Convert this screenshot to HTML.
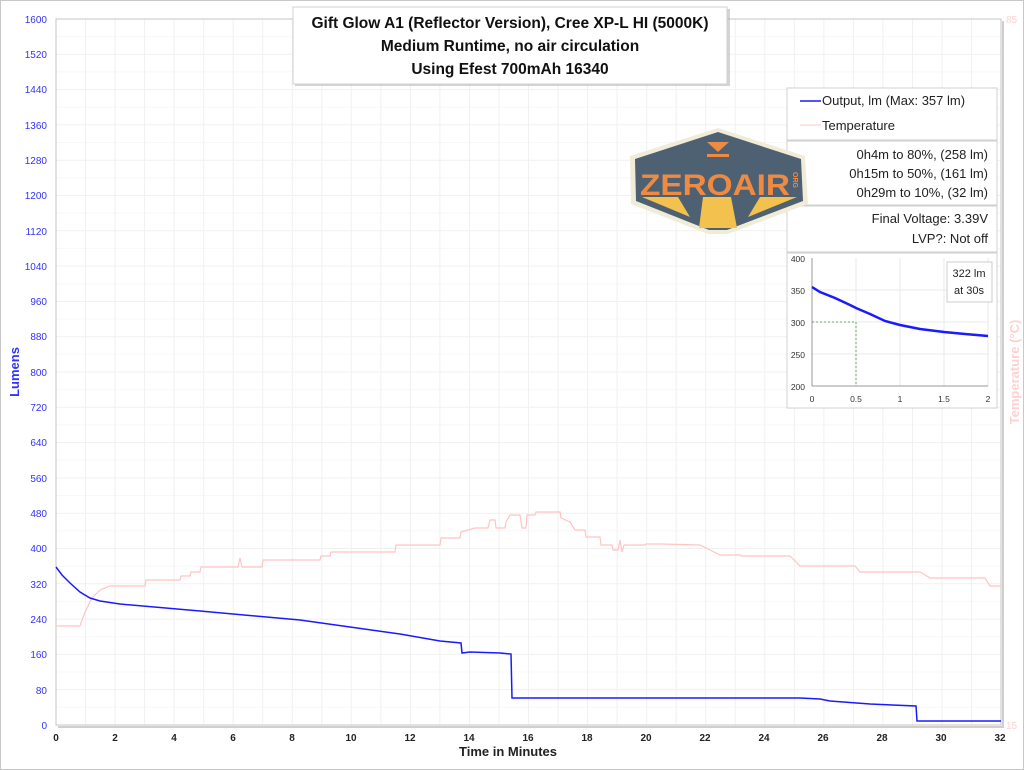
<!DOCTYPE html>
<html><head><meta charset="utf-8"><style>
body{margin:0;background:#fff}
svg{display:block;font-family:"Liberation Sans",sans-serif}
</style></head><body>
<svg width="1024" height="770" viewBox="0 0 1024 770" xmlns="http://www.w3.org/2000/svg">
<rect x="0.5" y="0.5" width="1023" height="769" fill="#fff" stroke="#c8c8c8"/>
<g stroke="#f1f1f1" stroke-width="1">
<line x1="56" x2="1001" y1="689.7" y2="689.7"/><line x1="56" x2="1001" y1="654.4" y2="654.4"/><line x1="56" x2="1001" y1="619.1" y2="619.1"/><line x1="56" x2="1001" y1="583.8" y2="583.8"/><line x1="56" x2="1001" y1="548.5" y2="548.5"/><line x1="56" x2="1001" y1="513.2" y2="513.2"/><line x1="56" x2="1001" y1="477.9" y2="477.9"/><line x1="56" x2="1001" y1="442.6" y2="442.6"/><line x1="56" x2="1001" y1="407.3" y2="407.3"/><line x1="56" x2="1001" y1="372" y2="372"/><line x1="56" x2="1001" y1="336.7" y2="336.7"/><line x1="56" x2="1001" y1="301.4" y2="301.4"/><line x1="56" x2="1001" y1="266.1" y2="266.1"/><line x1="56" x2="1001" y1="230.8" y2="230.8"/><line x1="56" x2="1001" y1="195.5" y2="195.5"/><line x1="56" x2="1001" y1="160.2" y2="160.2"/><line x1="56" x2="1001" y1="124.9" y2="124.9"/><line x1="56" x2="1001" y1="89.6" y2="89.6"/><line x1="56" x2="1001" y1="54.3" y2="54.3"/>
</g>
<g stroke="#f8f8f8" stroke-width="1">
<line x1="56" x2="1001" y1="707.3" y2="707.3"/><line x1="56" x2="1001" y1="672" y2="672"/><line x1="56" x2="1001" y1="636.7" y2="636.7"/><line x1="56" x2="1001" y1="601.4" y2="601.4"/><line x1="56" x2="1001" y1="566.1" y2="566.1"/><line x1="56" x2="1001" y1="530.8" y2="530.8"/><line x1="56" x2="1001" y1="495.5" y2="495.5"/><line x1="56" x2="1001" y1="460.2" y2="460.2"/><line x1="56" x2="1001" y1="424.9" y2="424.9"/><line x1="56" x2="1001" y1="389.6" y2="389.6"/><line x1="56" x2="1001" y1="354.3" y2="354.3"/><line x1="56" x2="1001" y1="319" y2="319"/><line x1="56" x2="1001" y1="283.7" y2="283.7"/><line x1="56" x2="1001" y1="248.4" y2="248.4"/><line x1="56" x2="1001" y1="213.1" y2="213.1"/><line x1="56" x2="1001" y1="177.8" y2="177.8"/><line x1="56" x2="1001" y1="142.5" y2="142.5"/><line x1="56" x2="1001" y1="107.2" y2="107.2"/><line x1="56" x2="1001" y1="71.9" y2="71.9"/><line x1="56" x2="1001" y1="36.6" y2="36.6"/>
</g>
<g stroke="#f1f1f1" stroke-width="1">
<line y1="19" y2="725" x1="85.5" x2="85.5"/><line y1="19" y2="725" x1="115.1" x2="115.1"/><line y1="19" y2="725" x1="144.6" x2="144.6"/><line y1="19" y2="725" x1="174.1" x2="174.1"/><line y1="19" y2="725" x1="203.7" x2="203.7"/><line y1="19" y2="725" x1="233.2" x2="233.2"/><line y1="19" y2="725" x1="262.7" x2="262.7"/><line y1="19" y2="725" x1="292.3" x2="292.3"/><line y1="19" y2="725" x1="321.8" x2="321.8"/><line y1="19" y2="725" x1="351.3" x2="351.3"/><line y1="19" y2="725" x1="380.9" x2="380.9"/><line y1="19" y2="725" x1="410.4" x2="410.4"/><line y1="19" y2="725" x1="439.9" x2="439.9"/><line y1="19" y2="725" x1="469.5" x2="469.5"/><line y1="19" y2="725" x1="499" x2="499"/><line y1="19" y2="725" x1="528.5" x2="528.5"/><line y1="19" y2="725" x1="558.1" x2="558.1"/><line y1="19" y2="725" x1="587.6" x2="587.6"/><line y1="19" y2="725" x1="617.1" x2="617.1"/><line y1="19" y2="725" x1="646.7" x2="646.7"/><line y1="19" y2="725" x1="676.2" x2="676.2"/><line y1="19" y2="725" x1="705.7" x2="705.7"/><line y1="19" y2="725" x1="735.3" x2="735.3"/><line y1="19" y2="725" x1="764.8" x2="764.8"/><line y1="19" y2="725" x1="794.3" x2="794.3"/><line y1="19" y2="725" x1="823.9" x2="823.9"/><line y1="19" y2="725" x1="853.4" x2="853.4"/><line y1="19" y2="725" x1="882.9" x2="882.9"/><line y1="19" y2="725" x1="912.5" x2="912.5"/><line y1="19" y2="725" x1="942" x2="942"/><line y1="19" y2="725" x1="971.5" x2="971.5"/>
</g>
<!-- axes frame with shadow -->
<polyline points="58,727 1003,727 1003,21" fill="none" stroke="#cfcfcf" stroke-width="2"/>
<rect x="56" y="19" width="945" height="706" fill="none" stroke="#c4c4c4" stroke-width="1"/>
<g fill="#3333ff" font-size="10" text-anchor="end">
<text x="47" y="729">0</text><text x="47" y="694">80</text><text x="47" y="658">160</text><text x="47" y="623">240</text><text x="47" y="588">320</text><text x="47" y="552">400</text><text x="47" y="517">480</text><text x="47" y="482">560</text><text x="47" y="446">640</text><text x="47" y="411">720</text><text x="47" y="376">800</text><text x="47" y="340">880</text><text x="47" y="305">960</text><text x="47" y="270">1040</text><text x="47" y="235">1120</text><text x="47" y="199">1200</text><text x="47" y="164">1280</text><text x="47" y="129">1360</text><text x="47" y="93">1440</text><text x="47" y="58">1520</text><text x="47" y="23">1600</text>
</g>
<g fill="#222" font-size="10" font-weight="bold" text-anchor="middle">
<text x="56" y="741">0</text><text x="115" y="741">2</text><text x="174" y="741">4</text><text x="233" y="741">6</text><text x="292" y="741">8</text><text x="351" y="741">10</text><text x="410" y="741">12</text><text x="469" y="741">14</text><text x="528" y="741">16</text><text x="587" y="741">18</text><text x="646" y="741">20</text><text x="705" y="741">22</text><text x="764" y="741">24</text><text x="823" y="741">26</text><text x="882" y="741">28</text><text x="941" y="741">30</text><text x="1000" y="741">32</text>
</g>
<text x="508" y="756" font-size="13" font-weight="bold" fill="#222" text-anchor="middle">Time in Minutes</text>
<text transform="translate(19,372) rotate(-90)" font-size="13" font-weight="bold" fill="#3333ff" text-anchor="middle">Lumens</text>
<text x="1006" y="23" font-size="10" fill="#ffd0d0">85</text>
<text x="1006" y="729" font-size="10" fill="#ffd0d0">15</text>
<text transform="translate(1019,372) rotate(-90)" font-size="13" font-weight="bold" fill="#ffd0d0" text-anchor="middle">Temperature (°C)</text>
<polyline fill="none" stroke="#ffc4c4" stroke-width="1.2" points="56,626 80,626 85,612 92,598 100,590 110,586 118,586 145,586 146,580 180,580 181,576 190,576 191,572 200,572 201,567 238,567 240,558 242,567 262,567 263,560 320,560 321,556 330,556 331,552 395,552 396,545 398,545 440,545 441,538 460,538 461,532 475,528 488,528 490,520 495,520 496,528 505,528 506,522 510,515 520,515 522,528 526,528 527,515 535,515 536,512 560,512 561,518 570,522 575,530 585,530 586,537 600,537 601,545 612,545 613,550 618,550 620,540 622,552 624,545 645,545 646,544 660,544 700,545 710,550 720,555 740,555 741,556 790,556 800,566 855,566 860,572 920,572 930,578 985,578 990,586 1001,586"/>
<polyline fill="none" stroke="#1a1aff" stroke-width="1.5" points="56,567 62,575 70,583 80,592 90,598 100,601 120,604 200,611 300,620 350,627 400,634 440,641 461,643 462,653 470,652 500,653 511,654 512,698 700,698 800,698 820,699 830,701 870,704 916,706 917,721 1001,721"/>
<rect x="295" y="9" width="435" height="77" fill="#aaa" opacity="0.5"/>
<rect x="293" y="7" width="434" height="77" fill="#fff" stroke="#d0d0d0"/>
<g font-size="15.5" font-weight="bold" fill="#111" text-anchor="middle">
<text x="510" y="28">Gift Glow A1 (Reflector Version), Cree XP-L HI (5000K)</text>
<text x="510" y="51">Medium Runtime, no air circulation</text>
<text x="510" y="74">Using Efest 700mAh 16340</text>
</g>
<g fill="#fff" stroke="#d0d0d0">
<rect x="787" y="88" width="210" height="52"/>
<rect x="787" y="141" width="210" height="64"/>
<rect x="787" y="206" width="210" height="46"/>
<rect x="787" y="253" width="210" height="155"/>
</g>
<line x1="800" y1="101" x2="821" y2="101" stroke="#1a1aff" stroke-width="1.5"/>
<line x1="800" y1="125" x2="821" y2="125" stroke="#ffc4c4"/>
<g font-size="13" fill="#222">
<text x="822" y="105">Output, lm (Max: 357 lm)</text>
<text x="822" y="130">Temperature</text>
</g>
<g font-size="13" fill="#222" text-anchor="end">
<text x="988" y="159">0h4m to 80%, (258 lm)</text>
<text x="988" y="178">0h15m to 50%, (161 lm)</text>
<text x="988" y="197">0h29m to 10%, (32 lm)</text>
<text x="988" y="223">Final Voltage:  3.39V</text>
<text x="988" y="243">LVP?:  Not off</text>
</g>
<!-- logo (on top) -->
<polygon points="630,156 718,128 805,156 808,204 728,234 708,234 631,204" fill="#f1ecd8"/>
<polygon points="635,159 718,132 801,159 803,201 727,230 709,230 636,201" fill="#4e6172"/>
<polygon points="642,197 678,197 690,217" fill="#f2c14e"/>
<polygon points="703,197 731,197 737,228 699,228" fill="#f2c14e"/>
<polygon points="760,197 797,197 748,217" fill="#f2c14e"/>
<polygon points="707,142 729,142 718,152" fill="#ee8a42"/>
<rect x="707" y="154" width="22" height="3" fill="#ee8a42"/>
<text x="640" y="195" font-size="30" font-weight="bold" fill="#ee8a42" textLength="150" lengthAdjust="spacingAndGlyphs">ZEROAIR</text>
<text transform="translate(793,172) rotate(90)" font-size="7" font-weight="bold" fill="#ee8a42">ORG</text>
<!-- inset -->
<g stroke="#e8e8e8"><line x1="812" x2="988" y1="290" y2="290"/><line x1="812" x2="988" y1="322" y2="322"/><line x1="812" x2="988" y1="354" y2="354"/><line x1="856" x2="856" y1="258" y2="386"/><line x1="900" x2="900" y1="258" y2="386"/><line x1="944" x2="944" y1="258" y2="386"/><line x1="988" x2="988" y1="258" y2="386"/></g>
<line x1="812" y1="258" x2="812" y2="386" stroke="#999"/>
<line x1="812" y1="386" x2="988" y2="386" stroke="#999"/>
<polyline fill="none" stroke="#3a9a3a" stroke-dasharray="2,2" stroke-width="0.8" points="812,322 856,322 856,386"/>
<polyline fill="none" stroke="#1a1aff" stroke-width="2.5" points="812,287 820,292 835,298 850,305 856,308 870,314 885,321 900,325 920,329 944,332 965,334 988,336"/>
<g font-size="8.5" fill="#333" text-anchor="end">
<text x="805" y="262">400</text><text x="805" y="294">350</text><text x="805" y="326">300</text><text x="805" y="358">250</text><text x="805" y="390">200</text>
</g>
<g font-size="8.5" fill="#333" text-anchor="middle">
<text x="812" y="402">0</text><text x="856" y="402">0.5</text><text x="900" y="402">1</text><text x="944" y="402">1.5</text><text x="988" y="402">2</text>
</g>
<rect x="947" y="262" width="45" height="40" fill="#fff" stroke="#ccc"/>
<g font-size="11" fill="#222" text-anchor="middle"><text x="969" y="277">322 lm</text><text x="969" y="294">at 30s</text></g>
</svg>
</body></html>
